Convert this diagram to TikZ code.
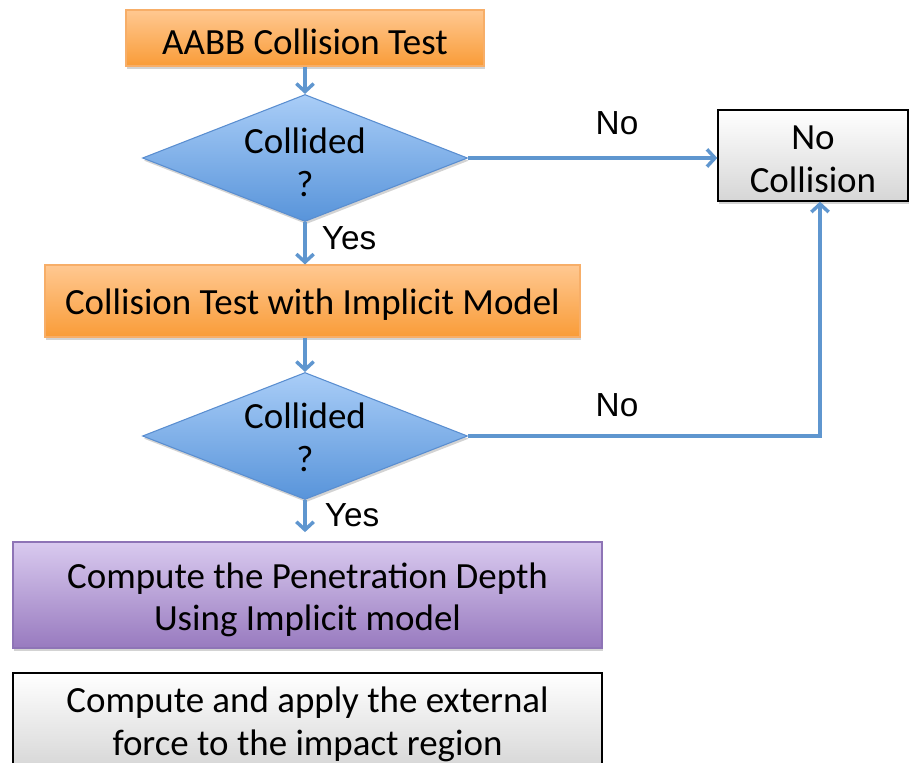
\documentclass[tikz,border=0pt]{standalone}
\usepackage{fontspec}
\setmainfont{Carlito}
\newfontfamily\labelfont{Liberation Sans}
\usetikzlibrary{arrows.meta,shapes.geometric,shadows}

\definecolor{orangetop}{HTML}{FFC891}
\definecolor{orangebot}{HTML}{F99C38}
\definecolor{orangeline}{HTML}{F7AE68}
\definecolor{bluetop}{HTML}{A9CDF7}
\definecolor{bluebot}{HTML}{5894DA}
\definecolor{blueline}{HTML}{5A8ED0}
\definecolor{purpletop}{HTML}{D9CAEF}
\definecolor{purplebot}{HTML}{987ABF}
\definecolor{purpleline}{HTML}{8E74B6}
\definecolor{graybot}{HTML}{D6D6D6}
\definecolor{flowblue}{HTML}{5F96CF}

\begin{document}
\begin{tikzpicture}[
  x=0.75pt, y=-0.75pt,
  shade/.style={drop shadow={opacity=0.35, shadow xshift=1pt, shadow yshift=-2pt}},
  txt/.style={align=center, inner sep=0pt, font=\fontsize{27.7}{32}\selectfont},
  box/.style={rectangle, inner sep=0pt, shade},
  orangebox/.style={box, draw=orangeline, line width=0.8pt, top color=orangetop, bottom color=orangebot},
  purplebox/.style={box, draw=purpleline, line width=0.8pt, top color=purpletop, bottom color=purplebot},
  graybox/.style={box, draw=black, line width=1pt, top color=white, bottom color=graybot},
  decision/.style={diamond, aspect=2.56, inner sep=0pt, shade,
    draw=blueline, line width=0.8pt, top color=bluetop, bottom color=bluebot,
    minimum width=325*0.75pt, minimum height=127*0.75pt},
  flow/.style={draw=flowblue, line width=2.6pt,
    -{Straight Barb[length=6pt, width=13pt, line width=2.6pt]}},
  answer/.style={font=\labelfont\fontsize{25}{30}\selectfont, inner sep=0pt}
]
\useasboundingbox (0,0) rectangle (910,763);
\clip (0,0) rectangle (910,763);

% shapes
\node[orangebox, minimum width=358*0.75pt, minimum height=56*0.75pt] (aabb) at (305,38) {};
\node[decision] (dec1) at (305,158) {};
\node[graybox, minimum width=190*0.75pt, minimum height=91*0.75pt] (nocol) at (813,155.5) {};
\node[orangebox, minimum width=535*0.75pt, minimum height=72*0.75pt] (impl) at (312.5,301) {};
\node[decision] (dec2) at (305,436) {};
\node[purplebox, minimum width=589*0.75pt, minimum height=106*0.75pt] (pen) at (307.5,595) {};
\node[graybox, minimum width=589*0.75pt, minimum height=97*0.75pt] (force) at (307.5,721.5) {};

% texts inside the shapes
\node[txt] (aabbtext) at (305,42) {AABB Collision Test};
\node[txt] (dec1text) at (305,162) {Collided\\?};
\node[txt] (nocoltext) at (813,159.5) {No\\Collision};
\node[txt] (impltext) at (312.5,305) {Collision Test with Implicit Model};
\node[txt] (dec2text) at (305,437.5) {Collided\\?};
\node[txt] (pentext) at (307.5,600) {Compute the Penetration Depth\\Using Implicit model};
\node[txt] (forcetext) at (307.5,724.5) {Compute and apply the external\\force to the impact region};

% connectors
\draw[flow] (aabb) -- (dec1);
\draw[flow] (dec1.south) -- (dec1.south |- impl.north);
\draw[flow] (dec1.east) -- (dec1.east -| nocol.west);
\draw[flow] (dec2.north |- impl.south) -- (dec2.north);
\coordinate (up) at ([xshift=7*0.75pt]nocol.south);
\draw[flow] (dec2.east) -| (up);
\draw[flow, shorten >=7pt] (dec2.south) -- (dec2.south |- pen.north);

% branch labels
\node[answer] (yes1) at (349,238) {Yes};
\node[answer] (no1) at (617,123) {No};
\node[answer] (no2) at (617,405) {No};
\node[answer] (yes2) at (352,515) {Yes};
\end{tikzpicture}
\end{document}
